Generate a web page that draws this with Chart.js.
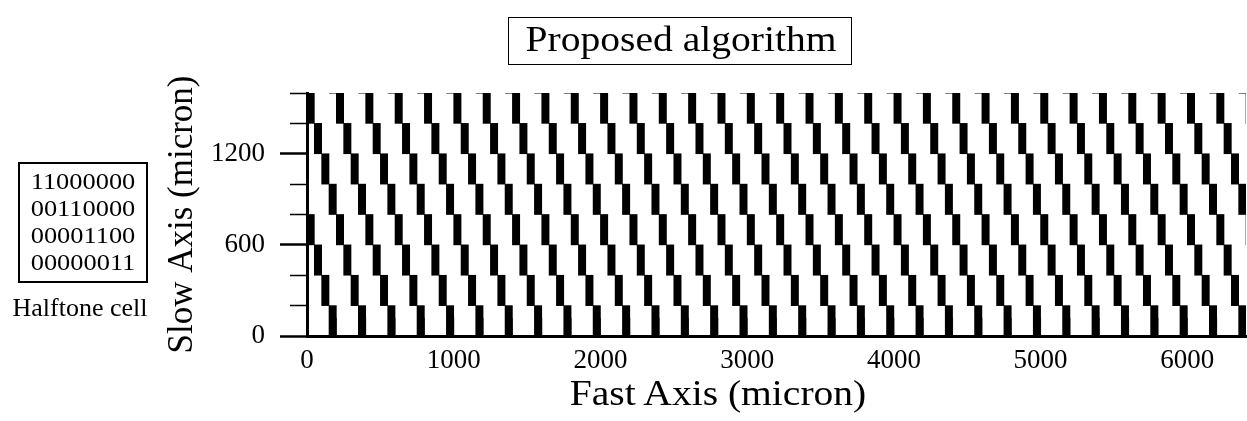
<!DOCTYPE html>
<html>
<head>
<meta charset="utf-8">
<script src="https://cdn.jsdelivr.net/npm/chart.js@4.4.1/dist/chart.umd.min.js"></script>
<style>
  html, body { margin: 0; padding: 0; background: #fff; }
  #wrap { position: relative; width: 1247px; height: 421px; overflow: hidden; background: #fff; }
  #chart { position: absolute; left: 0; top: 0; }
  .serif { font-family: "Liberation Serif", "Times New Roman", serif; color: #000; position: absolute; white-space: nowrap; }
  #titleBox { left: 508px; top: 17px; width: 344px; height: 48px; box-sizing: border-box; border: 1.5px solid #000; }
  #titleText { left: 0; width: 344px; top: 4px; font-size: 35px; line-height: 35px; text-align: center; transform: scaleX(1.13); transform-origin: 50% 50%; }
  #cellBox { left: 18px; top: 162px; width: 130px; height: 121px; box-sizing: border-box; border: 2px solid #000; }
  #cellText { left: 0; width: 126px; top: 4px; font-size: 24px; line-height: 27px; text-align: center; transform: scaleX(1.1); transform-origin: 50% 50%; }
  #cellLabel { left: 0; width: 160px; top: 295px; font-size: 25px; line-height: 25px; text-align: center; transform: scaleX(1.04); transform-origin: 50% 50%; }
  #xTitle { left: 568px; width: 300px; top: 376px; font-size: 35px; line-height: 35px; text-align: center; transform: scaleX(1.13); transform-origin: 50% 50%; }
</style>
</head>
<body>
<div id="wrap">
  <canvas id="chart" width="1247" height="421"></canvas>
  <div id="titleBox" class="serif"><div id="titleText" class="serif">Proposed algorithm</div></div>
  <div id="cellBox" class="serif"><div id="cellText" class="serif"></div></div>
  <div id="cellLabel" class="serif">Halftone cell</div>
  <div id="xTitle" class="serif">Fast Axis (micron)</div>
</div>
<script>
// ---- data ----
const halftoneCell = ['11000000', '00110000', '00001100', '00000011']; // rows, top to bottom
const cellColumnWidth = 25;      // micron per halftone column
const bandHeight = 200;          // micron per halftone row
const xMax = 6400;
const yMax = 1600;
const xTickValues = [0, 1000, 2000, 3000, 4000, 5000, 6000];
const yTickValues = [0, 200, 400, 600, 800, 1000, 1200, 1400, 1600];
const yTickLabels = ['0', '', '', '600', '', '', '1200', '', ''];
const bottomEdgeHeight = 120;    // thin edge lines at the foot of the bottom row
const chartTitle = 'Proposed algorithm';
const xTitle = 'Fast Axis (micron)';
const yTitle = 'Slow Axis (micron)';

document.getElementById('cellText').innerHTML = halftoneCell.join('<br>');

// ---- build bars from the halftone cell ----
const cellWidth = halftoneCell[0].length * cellColumnWidth;
const nBands = yMax / bandHeight;
const nCells = Math.ceil(xMax / cellWidth) + 1;
const bars = [];
const topEdges = [];
const bottomEdges = [];
for (let j = 0; j < nBands; j++) {
  const row = halftoneCell[j % halftoneCell.length];
  const hi = yMax - j * bandHeight;
  const lo = hi - bandHeight;
  const runs = [];
  let k = 0;
  while (k < row.length) {
    if (row[k] === '1') {
      const s = k;
      while (k < row.length && row[k] === '1') k++;
      runs.push([s, k]);
    } else k++;
  }
  for (let c = 0; c < nCells; c++) {
    for (const [s, e] of runs) {
      const x0 = c * cellWidth + s * cellColumnWidth;
      const x1 = c * cellWidth + e * cellColumnWidth;
      bars.push({ x: (x0 + x1) / 2, y: [lo, hi] });
      if (j === 0) topEdges.push({ x: x0 - (x1 - x0), y: hi }, { x: x0, y: hi }, { x: x0, y: null });
      if (lo === 0) bottomEdges.push({ x: x1, y: 0 }, { x: x1, y: bottomEdgeHeight }, { x: x1, y: null });
    }
  }
}

const serif = '"Liberation Serif", "Times New Roman", serif';

new Chart(document.getElementById('chart'), {
  type: 'bar',
  data: {
    datasets: [
      {
        type: 'bar',
        data: bars,
        backgroundColor: '#000',
        borderWidth: 0,
        barPercentage: 1,
        categoryPercentage: 1,
        grouped: false
      },
      {
        type: 'line',
        data: topEdges,
        borderColor: '#000',
        borderWidth: 1,
        pointRadius: 0,
        spanGaps: false,
        fill: false
      },
      {
        type: 'line',
        data: bottomEdges,
        borderColor: '#444',
        borderWidth: 1,
        pointRadius: 0,
        spanGaps: false,
        fill: false
      }
    ]
  },
  options: {
    responsive: false,
    animation: false,
    devicePixelRatio: 1,
    layout: { padding: { left: 150, right: 1, top: 93, bottom: 0 } },
    plugins: { legend: { display: false }, tooltip: { enabled: false }, title: { display: false } },
    scales: {
      x: {
        type: 'linear',
        position: 'bottom',
        min: 0,
        max: xMax,
        offset: false,
        grid: { offset: false, drawOnChartArea: false, drawTicks: false },
        border: { display: true, color: '#000', width: 3 },
        afterBuildTicks: (s) => { s.ticks = xTickValues.map(v => ({ value: v })); },
        afterFit: (s) => { s.height = 85; },
        ticks: {
          color: '#000',
          font: { family: serif, size: 27 },
          padding: 9,
          maxRotation: 0,
          autoSkip: false,
          callback: (v) => String(v)
        },
        title: { display: false }
      },
      y: {
        type: 'linear',
        position: 'left',
        min: 0,
        max: yMax,
        grid: {
          drawOnChartArea: false,
          drawTicks: true,
          tickLength: 27,
          tickColor: '#000',
          tickWidth: (ctx) => (ctx.tick && yTickLabels[yTickValues.indexOf(ctx.tick.value)] !== '' ? 2.5 : 1.5),
          tickBorderDash: (ctx) => (ctx.tick && yTickLabels[yTickValues.indexOf(ctx.tick.value)] !== '' ? [] : [0, 10, 40, 10])
        },
        border: { display: true, color: '#000', width: 3 },
        afterBuildTicks: (s) => { s.ticks = yTickValues.map(v => ({ value: v })); },
        afterFit: (s) => { s.width = 157; },
        ticks: {
          color: '#000',
          font: { family: serif, size: 27 },
          padding: 15,
          autoSkip: false,
          callback: (v) => { const i = yTickValues.indexOf(v); return i >= 0 ? yTickLabels[i] : ''; }
        },
        title: {
          display: true,
          text: yTitle,
          color: '#000',
          font: { family: serif, size: 35 },
          padding: { top: 12, bottom: 0 }
        }
      }
    }
  }
});
</script>
</body>
</html>
